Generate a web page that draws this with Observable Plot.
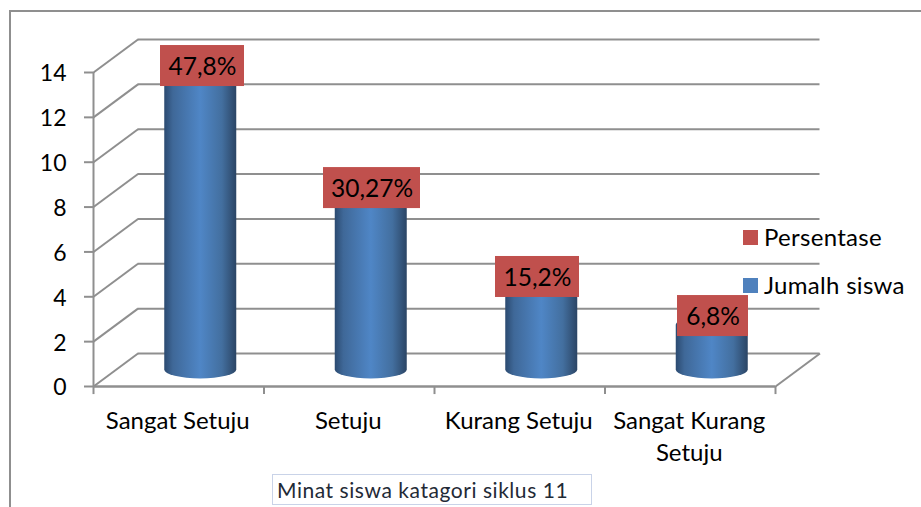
<!DOCTYPE html>
<html>
<head>
<meta charset="utf-8">
<script src="https://cdn.jsdelivr.net/npm/d3@7"></script>
<script src="https://cdn.jsdelivr.net/npm/@observablehq/plot@0.6"></script>
<style>
  html, body { margin: 0; padding: 0; background: #fff; overflow: hidden; }
  #wrap { position: relative; width: 921px; height: 507px; font-family: Lato, sans-serif; color: #000; }
  #frame { position: absolute; left: 9px; top: 10px; width: 930px; height: 520px; border-left: 2px solid #8f8f8f; border-top: 2px solid #8f8f8f; }
  .sw { position: absolute; left: 743px; width: 15px; height: 15px; }
  .lg { position: absolute; left: 764px; font-size: 24px; letter-spacing: 0.3px; line-height: 24px; white-space: nowrap; }
  #title { position: absolute; left: 272px; top: 474px; width: 318px; height: 29px; border: 1px solid #c9d3e8; font-size: 21px; letter-spacing: 0.55px; line-height: 29px; padding: 0; text-indent: 4px; color: #1f2a36; white-space: nowrap; }
  #chart { position: absolute; left: 0; top: 0; }
  #chart svg { background: transparent; }
</style>
</head>
<body>
<div id="wrap">
  <div id="chart"></div>
  <div id="frame"></div>
  <div class="sw" style="top:230px;background:#c0504d"></div>
  <div class="lg" style="top:225px" id="lg1"></div>
  <div class="sw" style="top:278px;background:#4f81bd"></div>
  <div class="lg" style="top:273px" id="lg2"></div>
  <div id="title"></div>
</div>
<script>
const categories = ["Sangat Setuju", "Setuju", "Kurang Setuju", "Sangat Kurang\nSetuju"];
const jumlahSiswa = [13, 8, 4, 2];
const persentase = ["47,8%", "30,27%", "15,2%", "6,8%"];
const yTicks = [0, 2, 4, 6, 8, 10, 12, 14];
const seriesNames = ["Persentase", "Jumalh siswa"];
const chartTitle = "Minat siswa katagori siklus 11";

// layout of the pseudo-3D scene (pixels)
const depth = {dx: 44.5, dy: -33};
const labelLayout = [
  {dx: 23.75, dy: -28.9, w: 84},
  {dx: 22.75, dy: -19, w: 97},
  {dx: 17.75, dy: -19.8, w: 84},
  {dx: 22.75, dy: -25.6, w: 71}
];
const gridColor = "#8f8f8f";
const idx = categories.map((_, i) => i);
const bars = idx.map(i => ({pos: i + 0.5, value: jumlahSiswa[i], label: persentase[i], ...labelLayout[i]}));
const bounds = d3.range(categories.length + 1);

const defs = () => {
  const d = d3.create("svg:defs");
  const g = d.append("linearGradient").attr("id", "cyl").attr("x1", 0).attr("x2", 1).attr("y1", 0).attr("y2", 0);
  [[0, "#2b4a70"], [0.12, "#3f6898"], [0.5, "#4f86c6"], [0.8, "#436f9f"], [1, "#2b4565"]]
    .forEach(([o, c]) => g.append("stop").attr("offset", o).attr("stop-color", c));
  return d.node();
};

const chart = Plot.plot({
  width: 921,
  height: 507,
  marginLeft: 93,
  marginRight: 146,
  marginTop: 72,
  marginBottom: 121,
  style: {fontFamily: "Lato, sans-serif", fontSize: "22px", color: "#000", background: "transparent"},
  x: {type: "linear", domain: [0, categories.length], axis: null},
  y: {type: "linear", domain: [0, 14], axis: null},
  marks: [
    defs,
    // back wall gridlines
    Plot.ruleY(yTicks, {x1: 0, x2: categories.length, dx: depth.dx, dy: depth.dy, stroke: gridColor, strokeWidth: 2}),
    // left wall / floor diagonals
    Plot.link(yTicks, {
      x1: () => 0, y1: d => d,
      x2: () => depth.dx / (682 / 4), y2: d => d - depth.dy / (314 / 14),
      stroke: gridColor, strokeWidth: 2
    }),
    Plot.link([0], {
      x1: () => categories.length, y1: () => 0,
      x2: () => categories.length + depth.dx / (682 / 4), y2: () => -depth.dy / (314 / 14),
      stroke: gridColor, strokeWidth: 2
    }),
    // front axes
    Plot.ruleX([0], {y1: 0, y2: 14, stroke: gridColor, strokeWidth: 2}),
    Plot.ruleY([0], {x1: 0, x2: categories.length, stroke: gridColor, strokeWidth: 2.5}),
    Plot.axisY(yTicks, {
      anchor: "left", tickSize: 9, tickFormat: () => "", label: null,
      stroke: gridColor, strokeWidth: 2
    }),
    Plot.axisY(yTicks, {
      anchor: "left", tickSize: 0, tickPadding: 27, dy: 1.5, label: null,
      fontSize: 23, fill: "#000"
    }),
    Plot.ruleX(bounds, {y1: 0, y2: -0.36, stroke: gridColor, strokeWidth: 2}),
    // cylinders
    ...bars.map(b => Plot.rect([b], {
      x1: d => d.pos, x2: d => d.pos, y1: () => 0, y2: d => d.value,
      insetLeft: -36, insetRight: -36, insetTop: -9, insetBottom: -9,
      rx: 36, ry: 9, dx: 22, dy: -16.5, fill: "url(#cyl)"
    })),
    // percentage labels
    ...bars.map(b => Plot.rect([b], {
      x1: d => d.pos, x2: d => d.pos, y1: d => d.value, y2: d => d.value,
      insetLeft: -b.w / 2, insetRight: -b.w / 2, insetTop: -20.5, insetBottom: -20.5,
      dx: b.dx, dy: b.dy, fill: "#c0504d"
    })),
    ...bars.map(b => Plot.text([b], {
      x: d => d.pos, y: d => d.value, text: d => d.label,
      dx: b.dx, dy: b.dy + 1.5, fontSize: 24.5, fill: "#000"
    })),
    // category labels
    Plot.text(bars, {
      x: d => d.pos, y: () => 0, text: (d, i) => categories[i],
      dx: -1, dy: 20, lineAnchor: "top", lineHeight: 1.33, fontSize: 24, fill: "#000",
      textAnchor: "middle", style: {letterSpacing: "0.5px"}
    })
  ]
});
document.getElementById("chart").appendChild(chart);
document.getElementById("lg1").textContent = seriesNames[0];
document.getElementById("lg2").textContent = seriesNames[1];
document.getElementById("title").textContent = chartTitle;
</script>
</body>
</html>
